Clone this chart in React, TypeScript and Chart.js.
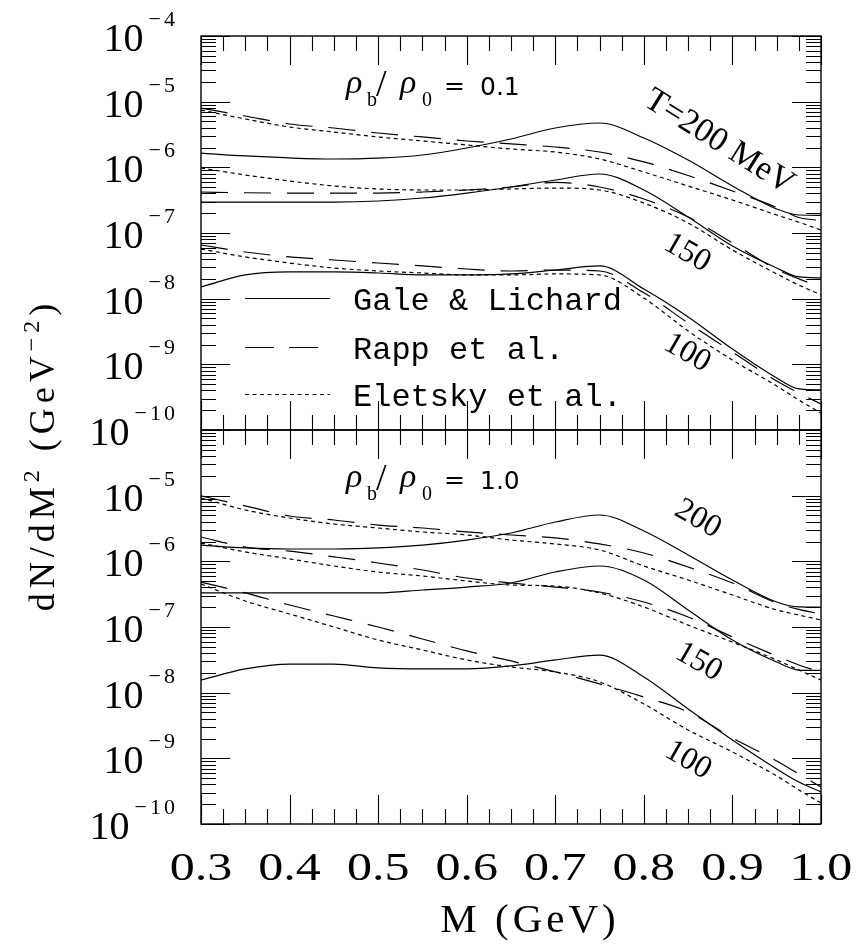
import React, { useEffect, useRef } from "react";
import { Chart, registerables } from "chart.js";

Chart.register(...registerables);

// Invariant mass grid (GeV)
const MASS = [0.3, 0.35, 0.4, 0.45, 0.5, 0.55, 0.6, 0.65, 0.7, 0.75, 0.8, 0.85, 0.9, 0.95, 0.975, 1.0];

// rho_b / rho_0 = 0.1
const GALE_LOW_T200 = [1.65e-6, 1.49e-6, 1.39e-6, 1.34e-6, 1.38e-6, 1.54e-6, 1.97e-6, 2.7e-6, 3.97e-6, 4.73e-6, 2.8e-6, 1.29e-6, 5.2e-7, 2.32e-7, 1.88e-7, 1.86e-7];
const RAPP_LOW_T200 = [8.0e-6, 6.05e-6, 4.57e-6, 3.97e-6, 3.33e-6, 2.9e-6, 2.52e-6, 2.27e-6, 2.04e-6, 1.71e-6, 1.21e-6, 7.5e-7, 4.36e-7, 2.45e-7, 1.72e-7, 1.55e-7];
const ELET_LOW_T200 = [7.46e-6, 5.45e-6, 4.11e-6, 3.45e-6, 2.9e-6, 2.52e-6, 2.19e-6, 1.9e-6, 1.71e-6, 1.34e-6, 8.49e-7, 5.2e-7, 3.18e-7, 1.88e-7, 1.46e-7, 1.11e-7];

const GALE_LOW_T150 = [2.96e-7, 2.96e-7, 2.96e-7, 2.96e-7, 3.07e-7, 3.41e-7, 4.06e-7, 5.02e-7, 6.41e-7, 7.92e-7, 4.52e-7, 1.75e-7, 6.34e-8, 2.93e-8, 2.14e-8, 2.07e-8];
const RAPP_LOW_T150 = [4.21e-7, 4.1e-7, 4.06e-7, 4.06e-7, 4.06e-7, 4.21e-7, 4.52e-7, 5.02e-7, 5.9e-7, 5.02e-7, 3.3e-7, 1.75e-7, 7.05e-8, 2.8e-8, 2.0e-8, 1.51e-8];
const ELET_LOW_T150 = [9.77e-7, 7.64e-7, 6.19e-7, 5.2e-7, 4.68e-7, 4.52e-7, 4.52e-7, 4.68e-7, 4.84e-7, 4.52e-7, 2.86e-7, 1.42e-7, 5.51e-8, 2.38e-8, 1.61e-8, 1.14e-8];

const GALE_LOW_T100 = [1.51e-8, 2.3e-8, 2.55e-8, 2.55e-8, 2.46e-8, 2.3e-8, 2.3e-8, 2.38e-8, 2.73e-8, 3.15e-8, 1.4e-8, 5.26e-9, 1.71e-9, 6.2e-10, 4.22e-10, 4.07e-10];
const RAPP_LOW_T100 = [6.57e-8, 5.14e-8, 4.32e-8, 3.88e-8, 3.49e-8, 3.15e-8, 2.83e-8, 2.64e-8, 2.73e-8, 2.64e-8, 1.23e-8, 4.26e-9, 1.54e-9, 5.57e-10, 3.66e-10, 2.49e-10];
const ELET_LOW_T100 = [5.7e-8, 4.32e-8, 3.49e-8, 2.93e-8, 2.64e-8, 2.46e-8, 2.3e-8, 2.3e-8, 2.38e-8, 2.3e-8, 1.02e-8, 3.22e-9, 1.16e-9, 4.68e-10, 2.86e-10, 1.82e-10];

// rho_b / rho_0 = 1.0
const GALE_HIGH_T200 = [1.77e-6, 1.6e-6, 1.54e-6, 1.54e-6, 1.6e-6, 1.77e-6, 2.11e-6, 2.7e-6, 3.97e-6, 5.08e-6, 2.9e-6, 1.25e-6, 5.2e-7, 2.4e-7, 2.02e-7, 2.0e-7];
const RAPP_HIGH_T200 = [9.9e-6, 7.0e-6, 4.9e-6, 4.26e-6, 3.57e-6, 3.22e-6, 2.8e-6, 2.52e-6, 2.27e-6, 1.84e-6, 1.34e-6, 8.2e-7, 4.68e-7, 2.32e-7, 1.85e-7, 1.58e-7];
const ELET_HIGH_T200 = [9.22e-6, 6.05e-6, 4.57e-6, 3.7e-6, 3.22e-6, 2.8e-6, 2.52e-6, 2.11e-6, 1.84e-6, 1.49e-6, 8.49e-7, 5.2e-7, 3.07e-7, 1.82e-7, 1.52e-7, 1.28e-7];

const GALE_HIGH_T150 = [3.3e-7, 3.3e-7, 3.3e-7, 3.3e-7, 3.3e-7, 3.66e-7, 4.06e-7, 4.68e-7, 6.88e-7, 8.49e-7, 5.2e-7, 1.82e-7, 6.34e-8, 2.93e-8, 2.21e-8, 2.18e-8];
const RAPP_HIGH_T150 = [2.35e-6, 1.65e-6, 1.43e-6, 1.17e-6, 9.44e-7, 7.38e-7, 5.57e-7, 4.68e-7, 4.06e-7, 3.41e-7, 2.4e-7, 1.42e-7, 7.05e-8, 3.61e-8, 2.64e-8, 2.07e-8];
const ELET_HIGH_T150 = [1.9e-6, 1.39e-6, 1.09e-6, 8.49e-7, 6.88e-7, 5.98e-7, 5.02e-7, 4.36e-7, 4.2e-7, 3.3e-7, 2.02e-7, 1.07e-7, 5.88e-8, 3.15e-8, 2.21e-8, 1.56e-8];

const GALE_HIGH_T100 = [1.56e-8, 2.3e-8, 2.73e-8, 2.73e-8, 2.38e-8, 2.3e-8, 2.3e-8, 2.55e-8, 3.15e-8, 3.72e-8, 1.73e-8, 5.64e-9, 1.9e-9, 6.88e-10, 4.36e-10, 3.08e-10];
const RAPP_HIGH_T100 = [4.84e-7, 3.3e-7, 2.16e-7, 1.47e-7, 1.0e-7, 6.57e-8, 4.32e-8, 3.04e-8, 2.07e-8, 1.36e-8, 8.59e-9, 5.08e-9, 2.04e-9, 9.12e-10, 5.78e-10, 3.66e-10];
const ELET_HIGH_T100 = [4.52e-7, 2.49e-7, 1.58e-7, 1.0e-7, 6.34e-8, 4.47e-8, 3.15e-8, 2.46e-8, 2.07e-8, 1.46e-8, 6.73e-9, 2.7e-9, 1.25e-9, 5.38e-10, 3.3e-10, 2.09e-10];

// Axis labelling
const X_TICK_LABELS = ["0.3", "0.4", "0.5", "0.6", "0.7", "0.8", "0.9", "1.0"];
const Y_EXPONENTS_LOW = [-4, -5, -6, -7, -8, -9, -10];
const Y_EXPONENTS_HIGH = [-5, -6, -7, -8, -9, -10];
const LEGEND_NAMES = ["Gale & Lichard", "Rapp et al.", "Eletsky et al."];

type Model = "gale" | "rapp" | "eletsky";
const MODELS: Model[] = ["gale", "rapp", "eletsky"];
const DASH: Record<Model, number[]> = {
  gale: [],
  rapp: [27, 16],
  eletsky: [4, 3.5],
};

interface Curve {
  model: Model;
  values: number[];
}
interface Note {
  text: string;
  m: number;
  v: number;
  size: number;
  angle: number;
}
interface PanelSpec {
  density: string;
  curves: Curve[];
  notes: Note[];
  exponents: number[];
  pad: { top: number; bottom: number };
  legend: boolean;
  xAxis: boolean;
  yTitle: boolean;
}

const LOW: PanelSpec = {
  density: "0.1",
  curves: [
    { model: "gale", values: GALE_LOW_T200 },
    { model: "rapp", values: RAPP_LOW_T200 },
    { model: "eletsky", values: ELET_LOW_T200 },
    { model: "gale", values: GALE_LOW_T150 },
    { model: "rapp", values: RAPP_LOW_T150 },
    { model: "eletsky", values: ELET_LOW_T150 },
    { model: "gale", values: GALE_LOW_T100 },
    { model: "rapp", values: RAPP_LOW_T100 },
    { model: "eletsky", values: ELET_LOW_T100 },
  ],
  notes: [
    { text: "T=200 MeV", m: 0.885, v: 2.43e-6, size: 34, angle: 32 },
    { text: "150", m: 0.849, v: 4.96e-8, size: 32, angle: 30 },
    { text: "100", m: 0.849, v: 1.49e-9, size: 32, angle: 30 },
  ],
  exponents: Y_EXPONENTS_LOW,
  pad: { top: 36, bottom: 516 },
  legend: true,
  xAxis: false,
  yTitle: true,
};

const HIGH: PanelSpec = {
  density: "1.0",
  curves: [
    { model: "gale", values: GALE_HIGH_T200 },
    { model: "rapp", values: RAPP_HIGH_T200 },
    { model: "eletsky", values: ELET_HIGH_T200 },
    { model: "gale", values: GALE_HIGH_T150 },
    { model: "rapp", values: RAPP_HIGH_T150 },
    { model: "eletsky", values: ELET_HIGH_T150 },
    { model: "gale", values: GALE_HIGH_T100 },
    { model: "rapp", values: RAPP_HIGH_T100 },
    { model: "eletsky", values: ELET_HIGH_T100 },
  ],
  notes: [
    { text: "200", m: 0.861, v: 4.42e-6, size: 32, angle: 30 },
    { text: "150", m: 0.862, v: 2.93e-8, size: 32, angle: 30 },
    { text: "100", m: 0.85, v: 9.4e-10, size: 32, angle: 30 },
  ],
  exponents: Y_EXPONENTS_HIGH,
  pad: { top: 430, bottom: 122 },
  legend: false,
  xAxis: true,
  yTitle: false,
};

const W = 863;
const H = 946;
const SERIF = '"Liberation Serif", "Times New Roman", serif';

type Seg = { text: string; font: string; dy: number };

// Draws a run of text pieces (with sub/superscripts) starting at x along the baseline.
function drawRun(ctx: CanvasRenderingContext2D, segs: Seg[], x: number, y: number, spacing: number) {
  let cx = x;
  for (const s of segs) {
    ctx.font = s.font;
    (ctx as any).letterSpacing = `${spacing}px`;
    ctx.fillText(s.text, cx, y + s.dy);
    cx += ctx.measureText(s.text).width;
  }
  (ctx as any).letterSpacing = "0px";
}

function runWidth(ctx: CanvasRenderingContext2D, segs: Seg[], spacing: number) {
  let w = 0;
  for (const s of segs) {
    ctx.font = s.font;
    (ctx as any).letterSpacing = `${spacing}px`;
    w += ctx.measureText(s.text).width;
  }
  (ctx as any).letterSpacing = "0px";
  return w;
}

function panelDecor(spec: PanelSpec) {
  return {
    id: "panelDecor",
    afterDraw(chart: any) {
      const ctx: CanvasRenderingContext2D = chart.ctx;
      const { left, right, top, bottom } = chart.chartArea;
      const xs = chart.scales.x;
      const ys = chart.scales.y;
      ctx.save();
      ctx.strokeStyle = "#000";
      ctx.fillStyle = "#000";

      // frame
      ctx.lineWidth = 1.4;
      ctx.strokeRect(left, top, right - left, bottom - top);

      // inward ticks on all four sides
      ctx.lineWidth = 1.1;
      ctx.beginPath();
      for (let i = 0; i <= 28; i++) {
        const px = Math.round(xs.getPixelForValue(0.3 + i * 0.025)) + 0.5;
        const len = i % 4 === 0 ? 29 : 15;
        ctx.moveTo(px, top);
        ctx.lineTo(px, top + len);
        ctx.moveTo(px, bottom);
        ctx.lineTo(px, bottom - len);
      }
      for (let e = -10; e <= -4; e++) {
        for (let k = 1; k <= 9; k++) {
          if (e === -4 && k > 1) break;
          const py = Math.round(ys.getPixelForValue(k * Math.pow(10, e))) + 0.5;
          const len = k === 1 ? 29 : 15;
          ctx.moveTo(left, py);
          ctx.lineTo(left + len, py);
          ctx.moveTo(right, py);
          ctx.lineTo(right - len, py);
        }
      }
      ctx.stroke();

      // y tick labels: 10^n
      ctx.textBaseline = "alphabetic";
      ctx.textAlign = "left";
      const labelRight = left - 26;
      for (const e of spec.exponents) {
        const py = ys.getPixelForValue(Math.pow(10, e));
        const supSegs: Seg[] = [{ text: "\u2212" + String(-e), font: `22px ${SERIF}`, dy: 0 }];
        const sw = runWidth(ctx, supSegs, 3) - 3;
        drawRun(ctx, supSegs, labelRight - sw, py - 10, 3);
        ctx.font = `40px ${SERIF}`;
        ctx.textAlign = "right";
        ctx.fillText("10", labelRight - sw - 5, py + 15);
        ctx.textAlign = "left";
      }

      // x tick labels and title
      if (spec.xAxis) {
        ctx.textAlign = "center";
        ctx.font = `40px ${SERIF}`;
        for (const lab of X_TICK_LABELS) {
          const px = xs.getPixelForValue(parseFloat(lab));
          ctx.save();
          ctx.translate(px, bottom + 56);
          ctx.scale(1.25, 1);
          ctx.fillText(lab, 0, 0);
          ctx.restore();
        }
        ctx.textAlign = "left";
        const segs: Seg[] = [{ text: "M (GeV)", font: `41px ${SERIF}`, dy: 0 }];
        const w = runWidth(ctx, segs, 4);
        drawRun(ctx, segs, 530 - w / 2, bottom + 108, 4);
      }

      // y title
      if (spec.yTitle) {
        ctx.save();
        ctx.translate(54, 455);
        ctx.rotate(-Math.PI / 2);
        ctx.textAlign = "left";
        const big = `36px ${SERIF}`;
        const small = `24px ${SERIF}`;
        const segs: Seg[] = [
          { text: "dN/dM", font: big, dy: 0 },
          { text: "2", font: small, dy: -15 },
          { text: " (GeV", font: big, dy: 0 },
          { text: "\u22122", font: small, dy: -15 },
          { text: ")", font: big, dy: 0 },
        ];
        const w = runWidth(ctx, segs, 5);
        drawRun(ctx, segs, -w / 2, 0, 5);
        ctx.restore();
      }

      // density label rho_b / rho_0 = value
      {
        ctx.textAlign = "left";
        const base = top + 57;
        ctx.font = `italic 34px ${SERIF}`;
        ctx.fillText("\u03c1", 346, base);
        ctx.font = `20px ${SERIF}`;
        ctx.fillText("b", 367, base + 13);
        ctx.font = `38px ${SERIF}`;
        ctx.fillText("/", 376, base + 3);
        ctx.font = `italic 34px ${SERIF}`;
        ctx.fillText("\u03c1", 400, base);
        ctx.font = `20px ${SERIF}`;
        ctx.fillText("0", 422, base + 13);
        ctx.font = '25px "DejaVu Sans", sans-serif';
        ctx.fillText("=", 444, base + 1);
        ctx.fillText(spec.density, 480, base + 2);
      }

      // temperature labels along the curves
      ctx.textAlign = "center";
      ctx.textBaseline = "middle";
      for (const n of spec.notes) {
        ctx.save();
        ctx.translate(xs.getPixelForValue(n.m), ys.getPixelForValue(n.v));
        ctx.rotate((n.angle * Math.PI) / 180);
        ctx.font = `${n.size}px ${SERIF}`;
        ctx.fillText(n.text, 0, 0);
        ctx.restore();
      }

      // legend
      if (spec.legend) {
        const rows = [262, 311, 358];
        ctx.textAlign = "left";
        ctx.textBaseline = "alphabetic";
        MODELS.forEach((model, i) => {
          const y = top + rows[i] + 0.5;
          ctx.setLineDash(model === "rapp" ? [29, 15] : DASH[model]);
          ctx.lineWidth = 1.2;
          ctx.beginPath();
          ctx.moveTo(left + 44, y);
          ctx.lineTo(left + (model === "rapp" ? 118 : 129), y);
          ctx.stroke();
          ctx.setLineDash([]);
          ctx.font = '32px "Liberation Mono", monospace';
          ctx.fillText(LEGEND_NAMES[i], left + 152, y + 11);
        });
      }
      ctx.restore();
    },
  };
}

function Panel({ spec }: { spec: PanelSpec }) {
  const ref = useRef<HTMLCanvasElement | null>(null);
  useEffect(() => {
    const canvas = ref.current;
    if (!canvas) return;
    const chart = new Chart(canvas, {
      type: "line",
      data: {
        datasets: spec.curves.map((c) => ({
          data: MASS.map((m, i) => ({ x: m, y: c.values[i] })),
          borderColor: "#000",
          borderWidth: 1.2,
          borderDash: DASH[c.model],
          pointRadius: 0,
          fill: false,
          cubicInterpolationMode: "monotone" as const,
        })),
      },
      options: {
        animation: false,
        responsive: false,
        maintainAspectRatio: false,
        events: [],
        layout: { padding: { left: 201, right: W - 821, top: spec.pad.top, bottom: spec.pad.bottom } },
        scales: {
          x: { type: "linear", min: 0.3, max: 1.0, display: false },
          y: { type: "logarithmic", min: 1e-10, max: 1e-4, display: false },
        },
        plugins: { legend: { display: false }, tooltip: { enabled: false } },
      },
      plugins: [panelDecor(spec)],
    });
    return () => chart.destroy();
  }, [spec]);
  return (
    <canvas
      ref={ref}
      width={W}
      height={H}
      style={{ position: "absolute", left: 0, top: 0, width: W, height: H }}
    />
  );
}

export default function App() {
  return (
    <div style={{ position: "fixed", left: 0, top: 0, width: W, height: H, background: "#fff" }}>
      <Panel spec={LOW} />
      <Panel spec={HIGH} />
    </div>
  );
}
